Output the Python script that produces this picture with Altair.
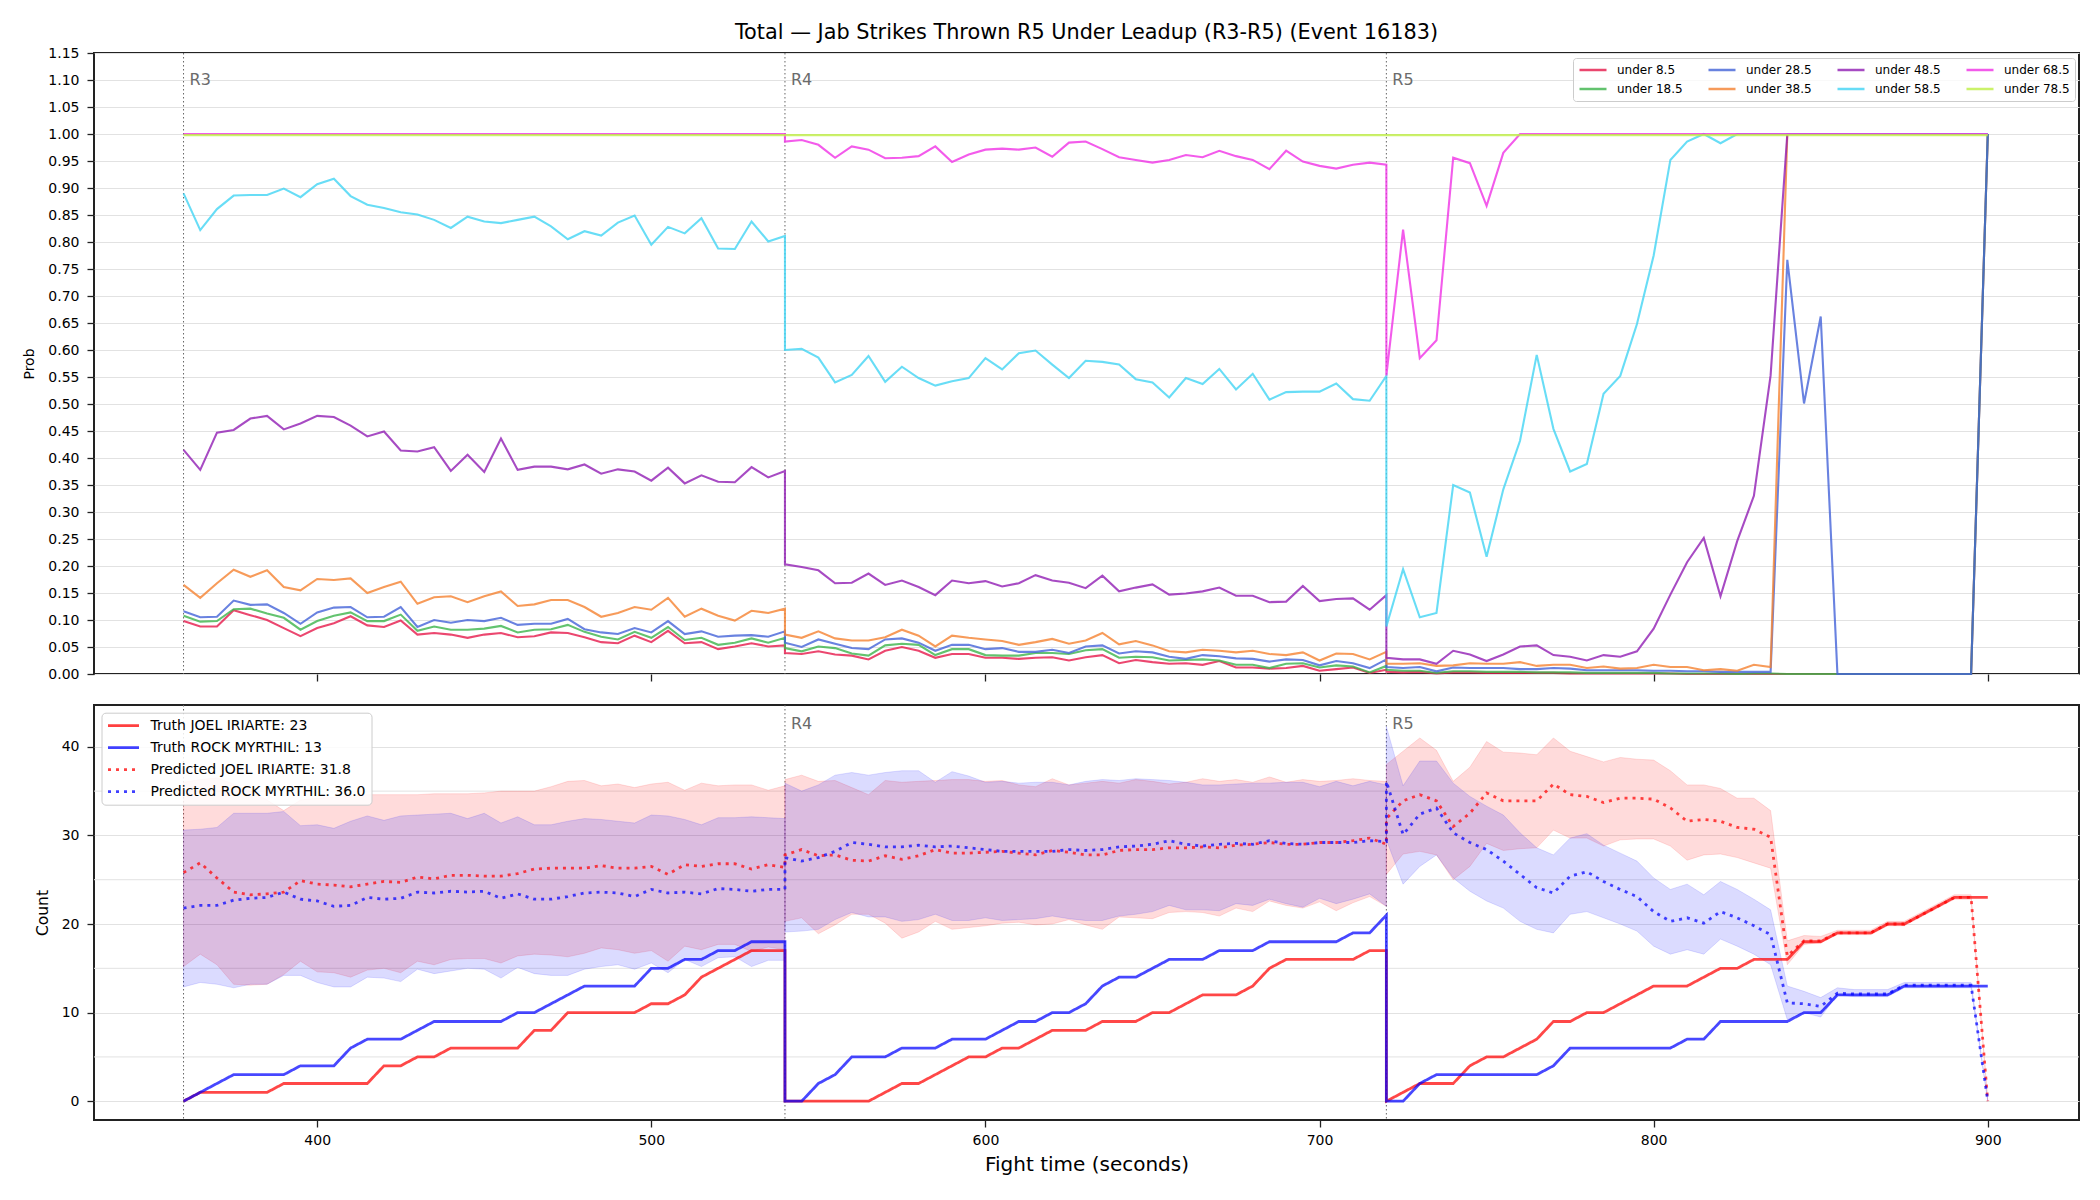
import altair as alt
import pandas as pd

FONT = "DejaVu Sans"

# ---------------- data ----------------
TITLE = ["Total \u2014 Jab Strikes Thrown R5 Under Leadup (R3-R5) (Event 16183)"]
T_R3 = list(range(360, 541, 5))
T_R4 = list(range(540, 721, 5))
T_R5 = list(range(720, 901, 5))
ROUND_T = [360, 540, 720]
ROUND_LABELS = ["R3", "R4", "R5"]

LINE_NAMES = ["under 8.5", "under 18.5", "under 28.5", "under 38.5",
              "under 48.5", "under 58.5", "under 68.5", "under 78.5"]
LINE_COLORS = ["#e6194b", "#3cb44b", "#4363d8", "#f58231",
               "#911eb4", "#42d4f4", "#f032e6", "#bfef45"]

u8_r3 = [0.098, 0.088, 0.088, 0.118, 0.109, 0.100, 0.085, 0.070, 0.085, 0.094, 0.107, 0.090, 0.087, 0.099, 0.073, 0.076, 0.073, 0.067, 0.073, 0.076, 0.068, 0.070, 0.077, 0.076, 0.068, 0.059, 0.057, 0.071, 0.059, 0.080, 0.057, 0.059, 0.046, 0.051, 0.057, 0.051, 0.053]
u8_r4 = [0.039, 0.037, 0.042, 0.036, 0.034, 0.027, 0.043, 0.050, 0.043, 0.030, 0.037, 0.037, 0.030, 0.030, 0.028, 0.030, 0.031, 0.025, 0.031, 0.035, 0.020, 0.026, 0.022, 0.019, 0.020, 0.017, 0.024, 0.012, 0.012, 0.010, 0.011, 0.015, 0.006, 0.009, 0.012, 0.002, 0.008]
u8_r5 = [0.004, 0.003, 0.004, 0.001, 0.003, 0.003, 0.002, 0.002, 0.002, 0.002, 0.002, 0.001, 0.001, 0.001, 0.001, 0.001, 0.001, 0.001, 0, 0, 0, 0, 0, 0, 0, 0, 0, 0, 0, 0, 0, 0, 0, 0, 0, 0, 1.0]

u18_r3 = [0.108, 0.097, 0.098, 0.120, 0.121, 0.112, 0.104, 0.082, 0.098, 0.108, 0.114, 0.098, 0.098, 0.110, 0.080, 0.088, 0.082, 0.082, 0.084, 0.089, 0.077, 0.082, 0.083, 0.091, 0.078, 0.069, 0.064, 0.078, 0.067, 0.087, 0.063, 0.067, 0.054, 0.058, 0.066, 0.058, 0.067]
u18_r4 = [0.048, 0.042, 0.051, 0.048, 0.038, 0.034, 0.053, 0.056, 0.054, 0.035, 0.046, 0.046, 0.035, 0.034, 0.034, 0.039, 0.039, 0.037, 0.044, 0.046, 0.030, 0.032, 0.031, 0.025, 0.026, 0.027, 0.025, 0.017, 0.017, 0.011, 0.019, 0.020, 0.012, 0.016, 0.014, 0.003, 0.015]
u18_r5 = [0.008, 0.006, 0.006, 0.002, 0.005, 0.005, 0.004, 0.004, 0.004, 0.003, 0.003, 0.003, 0.002, 0.002, 0.002, 0.002, 0.002, 0.001, 0.001, 0.001, 0.001, 0.000, 0.001, 0.001, 0, 0, 0, 0, 0, 0, 0, 0, 0, 0, 0, 0, 1.0]

u28_r3 = [0.116, 0.105, 0.106, 0.136, 0.128, 0.129, 0.113, 0.093, 0.114, 0.123, 0.124, 0.105, 0.106, 0.124, 0.087, 0.100, 0.095, 0.100, 0.098, 0.104, 0.091, 0.093, 0.093, 0.102, 0.083, 0.077, 0.074, 0.085, 0.077, 0.098, 0.074, 0.079, 0.069, 0.071, 0.072, 0.069, 0.079]
u28_r4 = [0.058, 0.050, 0.064, 0.056, 0.048, 0.046, 0.064, 0.066, 0.058, 0.043, 0.054, 0.054, 0.046, 0.048, 0.041, 0.041, 0.045, 0.039, 0.051, 0.053, 0.038, 0.042, 0.040, 0.032, 0.028, 0.035, 0.033, 0.029, 0.028, 0.023, 0.027, 0.026, 0.016, 0.024, 0.020, 0.011, 0.027]
u28_r5 = [0.013, 0.011, 0.013, 0.005, 0.012, 0.011, 0.011, 0.011, 0.009, 0.009, 0.011, 0.010, 0.007, 0.007, 0.007, 0.007, 0.006, 0.006, 0.005, 0.005, 0.004, 0.004, 0.004, 0.004, 0.767, 0.501, 0.662, 0, 0, 0, 0, 0, 0, 0, 0, 0, 1.0]

u38_r3 = [0.165, 0.141, 0.168, 0.193, 0.180, 0.192, 0.161, 0.155, 0.176, 0.174, 0.177, 0.150, 0.161, 0.171, 0.130, 0.142, 0.144, 0.133, 0.144, 0.153, 0.126, 0.129, 0.137, 0.137, 0.124, 0.106, 0.113, 0.124, 0.119, 0.141, 0.106, 0.121, 0.108, 0.099, 0.117, 0.113, 0.121]
u38_r4 = [0.073, 0.067, 0.079, 0.066, 0.062, 0.062, 0.068, 0.082, 0.071, 0.051, 0.071, 0.067, 0.064, 0.061, 0.054, 0.059, 0.065, 0.056, 0.062, 0.076, 0.055, 0.061, 0.053, 0.042, 0.040, 0.045, 0.043, 0.040, 0.043, 0.037, 0.035, 0.040, 0.025, 0.038, 0.037, 0.027, 0.041]
u38_r5 = [0.019, 0.019, 0.020, 0.015, 0.016, 0.020, 0.019, 0.019, 0.022, 0.015, 0.017, 0.017, 0.011, 0.014, 0.010, 0.011, 0.017, 0.013, 0.013, 0.007, 0.009, 0.006, 0.017, 0.013, 1.0, 1.0, 1.0, 1.0, 1.0, 1.0, 1.0, 1.0, 1.0, 1.0, 1.0, 1.0, 1.0]

u48_r3 = [0.415, 0.378, 0.447, 0.452, 0.473, 0.478, 0.453, 0.464, 0.478, 0.476, 0.460, 0.440, 0.449, 0.414, 0.412, 0.420, 0.376, 0.406, 0.374, 0.436, 0.378, 0.384, 0.384, 0.379, 0.388, 0.371, 0.379, 0.375, 0.358, 0.382, 0.353, 0.368, 0.356, 0.355, 0.383, 0.364, 0.376]
u48_r4 = [0.203, 0.198, 0.192, 0.168, 0.169, 0.186, 0.165, 0.173, 0.161, 0.146, 0.173, 0.168, 0.172, 0.162, 0.168, 0.183, 0.173, 0.169, 0.159, 0.182, 0.153, 0.160, 0.166, 0.147, 0.149, 0.153, 0.160, 0.145, 0.145, 0.133, 0.134, 0.163, 0.135, 0.139, 0.140, 0.119, 0.146]
u48_r5 = [0.030, 0.027, 0.027, 0.019, 0.043, 0.036, 0.024, 0.036, 0.051, 0.053, 0.035, 0.032, 0.025, 0.035, 0.032, 0.042, 0.084, 0.147, 0.207, 0.252, 0.144, 0.246, 0.330, 0.553, 1.0, 1.0, 1.0, 1.0, 1.0, 1.0, 1.0, 1.0, 1.0, 1.0, 1.0, 1.0, 1.0]

u58_r3 = [0.890, 0.822, 0.861, 0.886, 0.887, 0.887, 0.899, 0.883, 0.907, 0.917, 0.885, 0.869, 0.863, 0.855, 0.851, 0.841, 0.826, 0.847, 0.838, 0.835, 0.841, 0.847, 0.829, 0.805, 0.820, 0.812, 0.836, 0.849, 0.795, 0.828, 0.816, 0.844, 0.788, 0.787, 0.838, 0.801, 0.811]
u58_r4 = [0.600, 0.602, 0.586, 0.540, 0.554, 0.589, 0.541, 0.569, 0.548, 0.534, 0.542, 0.548, 0.585, 0.564, 0.594, 0.599, 0.573, 0.548, 0.580, 0.578, 0.573, 0.546, 0.540, 0.512, 0.548, 0.537, 0.565, 0.527, 0.556, 0.508, 0.522, 0.523, 0.523, 0.538, 0.509, 0.506, 0.552]
u58_r5 = [0.088, 0.194, 0.105, 0.113, 0.350, 0.336, 0.217, 0.342, 0.432, 0.591, 0.454, 0.375, 0.389, 0.519, 0.552, 0.648, 0.775, 0.952, 0.986, 1.0, 0.983, 1.0, 1.0, 1.0, 1.0, 1.0, 1.0, 1.0, 1.0, 1.0, 1.0, 1.0, 1.0, 1.0, 1.0, 1.0, 1.0]

u68_r3 = [1.0] * 37
u68_r4 = [0.986, 0.989, 0.980, 0.956, 0.977, 0.971, 0.955, 0.956, 0.959, 0.977, 0.948, 0.962, 0.971, 0.973, 0.971, 0.975, 0.958, 0.984, 0.986, 0.972, 0.957, 0.952, 0.947, 0.952, 0.961, 0.957, 0.969, 0.959, 0.952, 0.935, 0.969, 0.949, 0.941, 0.936, 0.943, 0.947, 0.943]
u68_r5 = [0.553, 0.823, 0.585, 0.618, 0.956, 0.946, 0.867, 0.965, 1.0, 1.0, 1.0, 1.0, 1.0, 1.0, 1.0, 1.0, 1.0, 1.0, 1.0, 1.0, 1.0, 1.0, 1.0, 1.0, 1.0, 1.0, 1.0, 1.0, 1.0, 1.0, 1.0, 1.0, 1.0, 1.0, 1.0, 1.0, 1.0]

u78_r3 = [0.998] * 37
u78_r4 = [0.998] * 37
u78_r5 = [0.998] * 37

PROB_SERIES = [
    (u8_r3, u8_r4, u8_r5), (u18_r3, u18_r4, u18_r5), (u28_r3, u28_r4, u28_r5),
    (u38_r3, u38_r4, u38_r5), (u48_r3, u48_r4, u48_r5), (u58_r3, u58_r4, u58_r5),
    (u68_r3, u68_r4, u68_r5), (u78_r3, u78_r4, u78_r5),
]

# counts panel
truth_red_r3 = [0, 1, 1, 1, 1, 1, 2, 2, 2, 2, 2, 2, 4, 4, 5, 5, 6, 6, 6, 6, 6, 8, 8, 10, 10, 10, 10, 10, 11, 11, 12, 14, 15, 16, 17, 17, 17]
truth_red_r4 = [0, 0, 0, 0, 0, 0, 1, 2, 2, 3, 4, 5, 5, 6, 6, 7, 8, 8, 8, 9, 9, 9, 10, 10, 11, 12, 12, 12, 13, 15, 16, 16, 16, 16, 16, 17, 17]
truth_red_r5 = [0, 1, 2, 2, 2, 4, 5, 5, 6, 7, 9, 9, 10, 10, 11, 12, 13, 13, 13, 14, 15, 15, 16, 16, 16, 18, 18, 19, 19, 19, 20, 20, 21, 22, 23, 23, 23]
truth_blue_r3 = [0, 1, 2, 3, 3, 3, 3, 4, 4, 4, 6, 7, 7, 7, 8, 9, 9, 9, 9, 9, 10, 10, 11, 12, 13, 13, 13, 13, 15, 15, 16, 16, 17, 17, 18, 18, 18]
truth_blue_r4 = [0, 0, 2, 3, 5, 5, 5, 6, 6, 6, 7, 7, 7, 8, 9, 9, 10, 10, 11, 13, 14, 14, 15, 16, 16, 16, 17, 17, 17, 18, 18, 18, 18, 18, 19, 19, 21]
truth_blue_r5 = [0, 0, 2, 3, 3, 3, 3, 3, 3, 3, 4, 6, 6, 6, 6, 6, 6, 6, 7, 7, 9, 9, 9, 9, 9, 10, 10, 12, 12, 12, 12, 13, 13, 13, 13, 13, 13]

pred_red_r3 = [25.8, 26.9, 25.2, 23.6, 23.3, 23.4, 23.6, 24.9, 24.5, 24.4, 24.2, 24.5, 24.8, 24.7, 25.3, 25.1, 25.5, 25.5, 25.4, 25.4, 25.7, 26.2, 26.3, 26.3, 26.3, 26.6, 26.3, 26.3, 26.5, 25.6, 26.7, 26.5, 26.8, 26.8, 26.2, 26.7, 26.4]
pred_red_r4 = [27.8, 28.4, 27.7, 27.8, 27.2, 27.1, 27.7, 27.3, 27.7, 28.4, 28.0, 28.0, 28.1, 28.2, 28.0, 27.8, 28.3, 28.1, 27.8, 27.8, 28.3, 28.4, 28.4, 28.6, 28.6, 28.7, 28.6, 28.9, 29.0, 29.2, 29.0, 29.0, 29.2, 29.2, 29.4, 29.7, 29.0]
pred_red_r5 = [31.9, 33.9, 34.6, 33.9, 31.0, 32.5, 34.8, 33.9, 33.9, 33.9, 35.8, 34.6, 34.4, 33.7, 34.2, 34.2, 34.1, 33.1, 31.6, 31.8, 31.6, 30.9, 30.7, 29.8, 16.4, 18.1, 18.1, 19.0, 19.0, 19.0, 20.0, 20.0, 21.0, 22.0, 23.0, 23.0, 0.0]
pred_blue_r3 = [21.8, 22.1, 22.1, 22.7, 22.9, 23.0, 23.6, 22.8, 22.6, 22.0, 22.1, 23.0, 22.8, 22.9, 23.6, 23.5, 23.7, 23.6, 23.7, 22.9, 23.4, 22.8, 22.8, 23.1, 23.5, 23.6, 23.5, 23.1, 23.9, 23.5, 23.6, 23.4, 24.0, 23.9, 23.7, 23.9, 23.9]
pred_blue_r4 = [27.5, 27.1, 27.5, 28.2, 29.2, 29.0, 28.7, 28.7, 28.9, 28.7, 28.8, 28.6, 28.4, 28.2, 28.2, 28.2, 28.2, 28.4, 28.3, 28.4, 28.7, 28.8, 29.0, 29.4, 29.0, 28.8, 29.0, 29.1, 29.0, 29.4, 29.1, 29.0, 29.2, 29.2, 29.2, 29.4, 29.3]
pred_blue_r5 = [36.1, 30.1, 32.4, 33.1, 30.3, 29.2, 28.4, 27.1, 25.6, 24.1, 23.5, 25.4, 25.9, 24.8, 23.9, 23.1, 21.4, 20.3, 20.7, 20.1, 21.4, 20.7, 19.8, 18.8, 11.1, 11.0, 10.7, 12.2, 12.1, 12.1, 12.1, 13.1, 13.1, 13.1, 13.1, 13.1, 0.0]

red_hi_r3 = [36.0, 36.3, 36.5, 35.8, 35.0, 34.0, 32.8, 34.0, 34.2, 34.3, 34.5, 34.6, 34.6, 34.6, 34.6, 34.7, 34.7, 34.7, 34.8, 35.0, 35.0, 35.0, 35.5, 36.1, 36.2, 35.6, 35.8, 35.4, 35.8, 36.0, 35.1, 35.9, 35.6, 35.7, 35.7, 35.1, 35.6]
red_lo_r3 = [15.2, 16.6, 15.4, 13.2, 13.1, 13.2, 14.3, 15.8, 14.6, 14.5, 14.0, 14.8, 15.0, 14.5, 15.8, 15.4, 16.0, 16.1, 16.1, 15.6, 16.4, 16.6, 16.5, 16.3, 16.7, 17.3, 17.1, 16.7, 17.0, 15.8, 17.5, 17.1, 17.7, 17.7, 16.9, 17.4, 17.1]
blue_hi_r3 = [30.6, 30.7, 30.9, 32.5, 32.5, 32.5, 32.7, 31.1, 31.2, 30.8, 31.6, 32.2, 31.7, 32.2, 32.3, 32.4, 32.5, 31.9, 32.5, 31.4, 32.1, 31.2, 31.2, 31.6, 31.9, 31.8, 31.6, 31.4, 32.3, 32.2, 31.8, 31.2, 32.0, 32.0, 32.1, 32.0, 31.9]
blue_lo_r3 = [12.9, 13.4, 13.2, 12.8, 13.2, 13.2, 14.2, 14.2, 13.4, 12.9, 12.9, 14.0, 13.9, 13.5, 14.9, 14.4, 14.7, 15.0, 14.9, 13.9, 15.1, 14.4, 14.2, 14.2, 14.9, 15.2, 15.4, 14.9, 15.6, 14.5, 16.0, 15.2, 16.2, 16.3, 15.2, 15.9, 15.9]

red_hi_r4 = [36.3, 36.8, 36.1, 36.2, 35.4, 34.6, 36.2, 36.0, 36.1, 36.2, 36.3, 36.3, 36.1, 36.2, 35.7, 35.5, 36.4, 35.7, 35.9, 36.1, 35.9, 36.3, 36.1, 35.8, 36.0, 36.4, 36.1, 36.3, 36.0, 36.6, 36.0, 36.3, 36.1, 36.2, 36.4, 36.2, 36.1]
red_lo_r4 = [20.3, 20.7, 18.9, 19.9, 21.1, 21.1, 20.1, 18.4, 19.1, 20.3, 19.4, 19.6, 19.8, 20.1, 20.2, 19.9, 20.0, 20.5, 19.9, 19.4, 20.8, 20.7, 20.6, 21.3, 21.4, 21.3, 20.9, 21.8, 21.4, 22.6, 22.1, 21.8, 22.5, 21.5, 22.4, 23.1, 22.0]
blue_hi_r4 = [35.9, 35.0, 35.7, 36.8, 37.1, 36.8, 37.1, 37.3, 37.3, 36.0, 37.2, 36.7, 36.0, 36.1, 35.9, 36.0, 36.0, 35.7, 36.1, 36.3, 36.2, 36.4, 36.3, 36.2, 36.0, 35.7, 35.7, 35.8, 35.9, 35.9, 36.0, 36.0, 35.5, 36.1, 35.6, 36.1, 35.7]
blue_lo_r4 = [19.1, 19.2, 19.4, 20.5, 21.3, 20.8, 20.8, 20.3, 20.5, 21.1, 20.4, 20.4, 20.7, 20.4, 20.5, 20.6, 20.9, 20.6, 20.4, 20.4, 20.9, 21.1, 21.4, 22.1, 21.6, 21.6, 21.5, 22.3, 22.1, 22.8, 22.3, 21.9, 22.9, 22.3, 22.8, 23.4, 22.0]

red_hi_r5 = [38.0, 39.5, 41.0, 39.6, 36.1, 37.7, 40.6, 39.4, 39.3, 39.1, 41.0, 39.5, 38.9, 38.3, 38.8, 38.6, 38.5, 37.3, 35.7, 35.7, 35.3, 34.2, 34.2, 32.8, 18.1, 18.7, 18.6, 19.3, 19.3, 19.3, 20.3, 20.3, 21.3, 22.3, 23.3, 23.3, 0.0]
red_lo_r5 = [25.6, 27.9, 28.2, 27.8, 25.0, 26.5, 29.1, 28.3, 28.5, 28.6, 30.6, 29.7, 29.7, 28.8, 29.5, 29.6, 29.6, 28.8, 27.2, 27.8, 27.9, 27.5, 26.9, 26.3, 15.4, 17.7, 17.9, 18.8, 18.8, 18.8, 19.8, 19.8, 20.8, 21.8, 22.8, 22.8, 0.0]
blue_hi_r5 = [42.3, 35.6, 38.4, 38.4, 35.9, 34.4, 33.3, 32.3, 30.3, 28.6, 27.8, 29.7, 30.2, 28.9, 28.0, 27.1, 25.2, 23.9, 24.5, 23.3, 24.8, 23.9, 22.8, 21.6, 13.0, 12.4, 11.7, 12.8, 12.6, 12.6, 12.6, 13.4, 13.4, 13.4, 13.4, 13.4, 0.0]
blue_lo_r5 = [29.5, 24.5, 26.5, 27.8, 25.2, 23.7, 22.6, 21.8, 20.3, 19.4, 19.0, 21.1, 21.4, 20.7, 20.0, 19.2, 17.5, 16.6, 17.1, 16.6, 18.3, 17.5, 16.6, 15.4, 9.2, 10.0, 9.5, 12.0, 11.8, 11.8, 11.8, 12.8, 12.8, 12.8, 12.8, 12.8, 0.0]

COUNT_NAMES = ["Truth JOEL IRIARTE: 23", "Truth ROCK MYRTHIL: 13",
               "Predicted JOEL IRIARTE: 31.8", "Predicted ROCK MYRTHIL: 36.0"]
COUNT_SERIES = [
    (truth_red_r3, truth_red_r4, truth_red_r5),
    (truth_blue_r3, truth_blue_r4, truth_blue_r5),
    (pred_red_r3, pred_red_r4, pred_red_r5),
    (pred_blue_r3, pred_blue_r4, pred_blue_r5),
]
BANDS = [
    ("red", (red_lo_r3, red_lo_r4, red_lo_r5), (red_hi_r3, red_hi_r4, red_hi_r5)),
    ("blue", (blue_lo_r3, blue_lo_r4, blue_lo_r5), (blue_hi_r3, blue_hi_r4, blue_hi_r5)),
]
MINOR_GRID = [5, 15, 25, 35]

TIMES = T_R3 + T_R4 + T_R5
ROUND_OF = ["R3"] * 37 + ["R4"] * 37 + ["R5"] * 37


def chain(parts):
    out = []
    for p in parts:
        assert len(p) == 37, len(p)
        out += list(p)
    return out


rows = []
for name, parts in zip(LINE_NAMES, PROB_SERIES):
    for i, (t, v) in enumerate(zip(TIMES, chain(parts))):
        rows.append({"t": t, "v": v, "series": name, "idx": i})
prob_df = pd.DataFrame(rows)

rows = []
for name, parts in zip(COUNT_NAMES, COUNT_SERIES):
    for i, (t, v) in enumerate(zip(TIMES, chain(parts))):
        rows.append({"t": t, "v": v, "series": name, "idx": i})
count_df = pd.DataFrame(rows)

band_frames = {}
for name, lo, hi in BANDS:
    band_frames[name] = pd.DataFrame({"t": TIMES, "lo": chain(lo), "hi": chain(hi),
                                      "rnd": ROUND_OF})

rounds_df = pd.DataFrame({"t": ROUND_T, "label": ROUND_LABELS})
minor_df = pd.DataFrame({"v": MINOR_GRID})
title_df = pd.DataFrame({"title": TITLE})

# ---------------- chart ----------------
W = 1985
X_DOMAIN = [333.2, 927.3]
X_TICKS = [400, 500, 600, 700, 800, 900]
xs = alt.Scale(domain=X_DOMAIN, nice=False, zero=False)
GRID = "#e2e2e2"


def x_enc(bottom):
    return alt.X("t:Q", scale=xs,
                 axis=alt.Axis(values=X_TICKS, labels=bottom, grid=False,
                               title="Fight time (seconds)" if bottom else None,
                               titleFontSize=20, titlePadding=7,
                               tickSize=7, labelPadding=6))


# ---- top panel
prob_ticks = [round(i * 0.05, 2) for i in range(24)]
y_top = alt.Y("v:Q", scale=alt.Scale(domain=[0, 1.15], nice=False, zero=False),
              axis=alt.Axis(values=prob_ticks, format=".2f", title="Prob",
                            titleFontSize=14, tickSize=7, labelPadding=8,
                            titlePadding=11, grid=True))

top_rules = alt.Chart(rounds_df).mark_rule(
    color="#666666", strokeDash=[1.5, 2.5], strokeWidth=1
).encode(x=x_enc(False))

top_lines = alt.Chart(prob_df).mark_line(strokeWidth=2.1, opacity=0.8).encode(
    x=x_enc(False),
    y=y_top,
    color=alt.Color("series:N",
                    scale=alt.Scale(domain=LINE_NAMES, range=LINE_COLORS),
                    legend=alt.Legend(title=None, orient="none", legendX=1479, legendY=5,
                                      columns=4, symbolType="stroke", symbolSize=729,
                                      symbolStrokeWidth=2.5, symbolOpacity=0.8,
                                      labelFontSize=12, labelFont=FONT, labelOffset=9,
                                      columnPadding=24, rowPadding=5, clipHeight=14,
                                      padding=5,
                                      fillColor="rgba(255,255,255,0.8)",
                                      strokeColor="#cccccc", cornerRadius=3)),
    order="idx:Q",
)

top_text = alt.Chart(rounds_df).mark_text(
    align="left", baseline="middle", dx=6, fontSize=16, font=FONT, color="#6b6b6b"
).encode(x=x_enc(False), y=alt.value(26.6), text="label:N")

top_title = alt.Chart(title_df).mark_text(
    align="center", baseline="middle", fontSize=20.8, font=FONT, color="#000000"
).encode(x=alt.value(W / 2), y=alt.value(-20), text="title:N")

top = alt.layer(top_rules, top_lines, top_text, top_title).properties(width=W, height=621)

# ---- bottom panel
y_scale_b = alt.Scale(domain=[-2.12, 44.72], nice=False, zero=False)
y_axis_b = alt.Axis(values=[0, 10, 20, 30, 40], title="Count", titleFontSize=15.5,
                    tickSize=7, labelPadding=8, titlePadding=11, grid=True)

minor = alt.Chart(minor_df).mark_rule(color=GRID, strokeWidth=1).encode(
    y=alt.Y("v:Q", scale=y_scale_b, axis=y_axis_b))

bot_rules = alt.Chart(rounds_df).mark_rule(
    color="#666666", strokeDash=[1.5, 2.5], strokeWidth=1
).encode(x=x_enc(True))

band_layers = []
for name, col in (("red", "#ff0000"), ("blue", "#0000ff")):
    band_layers.append(
        alt.Chart(band_frames[name]).mark_area(
            color=col, fillOpacity=0.14, stroke=col, strokeOpacity=0.12, strokeWidth=1
        ).encode(
            x=x_enc(True),
            y=alt.Y("lo:Q", scale=y_scale_b, axis=y_axis_b),
            y2="hi:Q",
            detail="rnd:N",
        )
    )

bot_legend = alt.Legend(title=None, orient="none", legendX=7.5, legendY=7.7,
                        symbolType="stroke", symbolSize=961, symbolStrokeWidth=2.8,
                        symbolOpacity=0.75, labelFontSize=14, labelFont=FONT,
                        labelOffset=10, rowPadding=6, clipHeight=16, padding=5,
                        labelLimit=500,
                        fillColor="rgba(255,255,255,0.85)", strokeColor="#cccccc",
                        cornerRadius=4)

count_lines = alt.Chart(count_df).mark_line(strokeWidth=2.8, opacity=0.72).encode(
    x=x_enc(True),
    y=alt.Y("v:Q", scale=y_scale_b, axis=y_axis_b),
    color=alt.Color("series:N",
                    scale=alt.Scale(domain=COUNT_NAMES,
                                    range=["#ff0000", "#0000ff", "#ff0000", "#0000ff"]),
                    legend=bot_legend),
    strokeDash=alt.StrokeDash("series:N",
                              scale=alt.Scale(domain=COUNT_NAMES,
                                              range=[[1, 0], [1, 0], [3, 5], [3, 5]]),
                              legend=bot_legend),
    order="idx:Q",
)

bot_text = alt.Chart(rounds_df[rounds_df["label"] != "R3"]).mark_text(
    align="left", baseline="middle", dx=6, fontSize=16, font=FONT, color="#6b6b6b"
).encode(x=x_enc(True), y=alt.value(19.3), text="label:N")

bottom = alt.layer(minor, bot_rules, *band_layers, count_lines, bot_text).properties(
    width=W, height=415)

chart = alt.vconcat(top, bottom, spacing=31, bounds="flush").resolve_scale(
    color="independent", strokeDash="independent", x="shared"
).resolve_legend(color="independent", strokeDash="independent").properties(
    padding={"left": 21, "top": 21, "right": 5, "bottom": 5},
    background="white",
).configure_view(
    stroke="#222222", strokeWidth=2
).configure_axis(
    domain=False, tickColor="#222222", tickWidth=1.3,
    labelFont=FONT, labelFontSize=14, labelColor="#000000",
    titleFont=FONT, titleFontWeight="normal", titleColor="#000000",
    gridColor=GRID, gridWidth=1,
).configure_legend(labelColor="#000000")

chart.save("out.html", embed_options={"renderer": "svg", "actions": False})
